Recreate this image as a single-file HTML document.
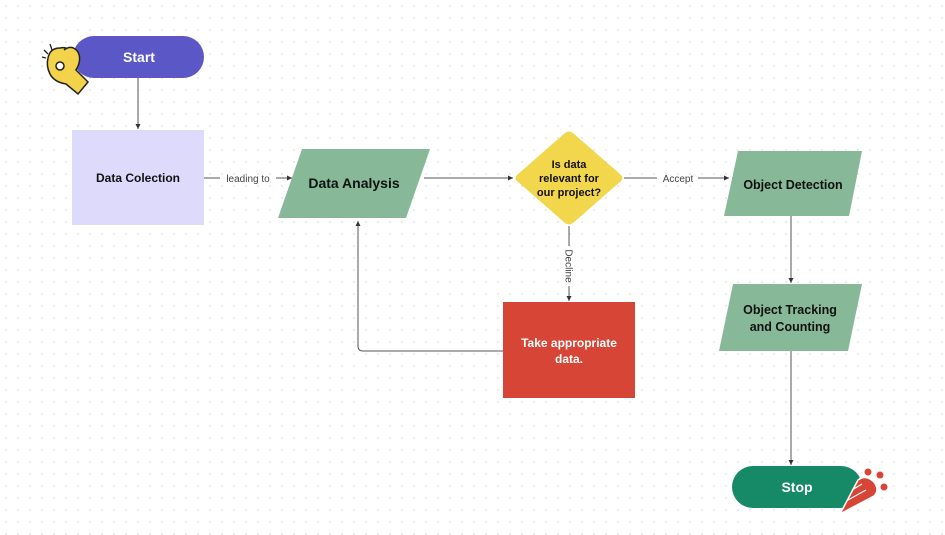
<!DOCTYPE html>
<html><head><meta charset="utf-8"><style>
html,body{margin:0;padding:0;background:#fff;}
svg{display:block;}
text{font-family:"Liberation Sans",Arial,sans-serif;}
</style></head><body>
<svg width="945" height="535" viewBox="0 0 945 535" xmlns="http://www.w3.org/2000/svg">
<defs>
<pattern id="dots" width="12" height="12" patternUnits="userSpaceOnUse">
<circle cx="6" cy="6" r="0.9" fill="#dcdcdc"/>
</pattern>
<marker id="ar" markerWidth="6" markerHeight="6" refX="5" refY="3" orient="auto" markerUnits="userSpaceOnUse">
<path d="M0,0.5 L5,3 L0,5.5 z" fill="#333"/>
</marker>
</defs>
<rect width="945" height="535" fill="#fff"/>
<rect width="945" height="535" fill="url(#dots)"/>

<g stroke="#555" stroke-width="1" fill="none">
<line x1="138" y1="78" x2="138" y2="129" marker-end="url(#ar)"/>
<line x1="204" y1="178" x2="220" y2="178"/>
<line x1="276" y1="178" x2="292" y2="178" marker-end="url(#ar)"/>
<line x1="424" y1="178" x2="513" y2="178" marker-end="url(#ar)"/>
<line x1="624" y1="178" x2="657" y2="178"/>
<line x1="698" y1="178" x2="729" y2="178" marker-end="url(#ar)"/>
<line x1="569" y1="226" x2="569" y2="246"/>
<line x1="569" y1="286" x2="569" y2="301" marker-end="url(#ar)"/>
<line x1="791" y1="216" x2="791" y2="283" marker-end="url(#ar)"/>
<line x1="791" y1="351" x2="791" y2="465" marker-end="url(#ar)"/>
<path d="M503,351 L363,351 Q358,351 358,346 L358,221" marker-end="url(#ar)"/>
</g>
<text x="248" y="182" font-size="10" fill="#444" text-anchor="middle">leading to</text>
<text x="678" y="182" font-size="10" fill="#444" text-anchor="middle">Accept</text>
<text x="0" y="0" font-size="10" fill="#444" text-anchor="middle" transform="translate(565.5,266) rotate(90)">Decline</text>

<rect x="73" y="36" width="131" height="42" rx="21" fill="#5b57c6"/>
<text x="139" y="62" font-size="14" font-weight="bold" fill="#fff" text-anchor="middle">Start</text>
<g transform="translate(42,44)">
<path d="M6,14 Q8,4 18,4 Q26,2 30,10 Q34,18 34,26 L46,38 L36,50 L24,40 Q12,38 8,30 Q4,22 6,14 Z" fill="#f2d34a" stroke="#222" stroke-width="1.5"/>
<path d="M22,6 Q30,0 36,8 Q40,16 34,26" fill="#f2d34a" stroke="#222" stroke-width="1.5"/>
<circle cx="18" cy="22" r="4" fill="#fff" stroke="#222" stroke-width="1.5"/>
<path d="M2,6 L6,10 M8,0 L10,6 M0,13 L4,14" stroke="#222" stroke-width="1.3"/>
</g>

<rect x="72" y="130" width="132" height="95" fill="#dedafc"/>
<text x="138" y="182" font-size="12" font-weight="bold" fill="#111" text-anchor="middle">Data Colection</text>

<polygon points="302,149 430,149 406,218 278,218" fill="#87b898"/>
<text x="354" y="188" font-size="14" font-weight="bold" fill="#111" text-anchor="middle">Data Analysis</text>

<path d="M565,133 Q569,130 573,133 L621,175 Q624,178 621,181 L573,223 Q569,226 565,223 L517,181 Q514,178 517,175 Z" fill="#f2d64b"/>
<text x="569" y="168" font-size="11" font-weight="bold" fill="#111" text-anchor="middle">Is data</text>
<text x="569" y="182" font-size="11" font-weight="bold" fill="#111" text-anchor="middle">relevant for</text>
<text x="569" y="196" font-size="11" font-weight="bold" fill="#111" text-anchor="middle">our project?</text>

<polygon points="738,151 862,151 849,216 724,216" fill="#87b898"/>
<text x="793" y="189" font-size="12.5" font-weight="bold" fill="#111" text-anchor="middle">Object Detection</text>

<polygon points="733,284 862,284 848,351 719,351" fill="#87b898"/>
<text x="790" y="314" font-size="12.5" font-weight="bold" fill="#111" text-anchor="middle">Object Tracking</text>
<text x="790" y="331" font-size="12.5" font-weight="bold" fill="#111" text-anchor="middle">and Counting</text>

<rect x="503" y="302" width="132" height="96" fill="#d64536"/>
<text x="569" y="347" font-size="12" font-weight="bold" fill="#fff" text-anchor="middle">Take appropriate</text>
<text x="569" y="363" font-size="12" font-weight="bold" fill="#fff" text-anchor="middle">data.</text>

<rect x="732" y="466" width="130" height="42" rx="21" fill="#168a66"/>
<text x="797" y="492" font-size="14" font-weight="bold" fill="#fff" text-anchor="middle">Stop</text>
<g>
<path d="M840,514 L858,480 Q866,474 874,482 Q880,490 874,496 Z" fill="#d64536" stroke="#fff" stroke-width="1.5"/>
<path d="M848,500 L866,490 M852,490 L862,484" stroke="#fff" stroke-width="1.2"/>
<circle cx="868" cy="472" r="4" fill="#d64536" stroke="#fff" stroke-width="1"/>
<circle cx="880" cy="475" r="4" fill="#d64536" stroke="#fff" stroke-width="1"/>
<circle cx="884" cy="487" r="4" fill="#d64536" stroke="#fff" stroke-width="1"/>
</g>
</svg>
</body></html>
